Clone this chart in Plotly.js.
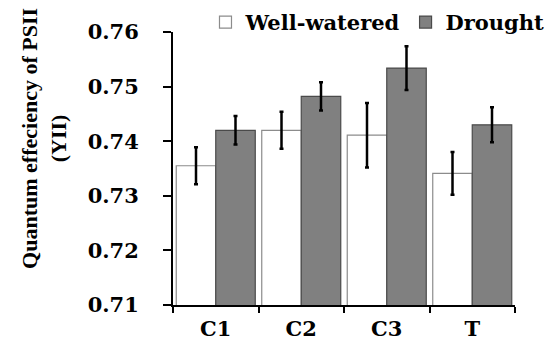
<!DOCTYPE html>
<html>
<head>
<meta charset="utf-8">
<script src="https://cdn.plot.ly/plotly-3.0.1.min.js"></script>
<style>html,body{margin:0;padding:0;background:#fff;}#chart{width:545px;height:340px;}</style>
</head>
<body>
<div id="chart"></div>
<script>
const categories = ["C1", "C2", "C3", "T"];
const wellWatered = [0.7355, 0.7420, 0.7411, 0.7341];
const wellWateredErr = [0.0034, 0.0034, 0.0059, 0.0039];
const drought = [0.7420, 0.7482, 0.7534, 0.7430];
const droughtErr = [0.0026, 0.0026, 0.0040, 0.0032];
const yTickVals = [0.71, 0.72, 0.73, 0.74, 0.75, 0.76];
const yTickText = ["0.71", "0.72", "0.73", "0.74", "0.75", "0.76"];

const boldSerif = "DejaVu Serif, serif";
const errStyle = {type: "data", visible: true, color: "#000", thickness: 2.5, width: 2};

const traces = [
  {
    type: "bar", name: "Well-watered", x: categories, y: wellWatered,
    error_y: Object.assign({array: wellWateredErr}, errStyle),
    marker: {color: "#ffffff", line: {color: "#8c8c8c", width: 1.2}}
  },
  {
    type: "bar", name: "Drought", x: categories, y: drought,
    error_y: Object.assign({array: droughtErr}, errStyle),
    marker: {color: "#808080", line: {color: "#4a4a4a", width: 1.2}}
  }
];

const layout = {
  width: 545, height: 340,
  margin: {l: 173, r: 30, t: 32, b: 35, pad: 0, autoexpand: false},
  paper_bgcolor: "#fff", plot_bgcolor: "#fff",
  barmode: "group", bargap: 0.076, bargroupgap: 0,
  showlegend: true,
  legend: {
    orientation: "h", x: 0.095, xanchor: "left", y: 1.11, yanchor: "top",
    font: {family: boldSerif, size: 21, color: "#000", weight: "bold"},
    bgcolor: "rgba(0,0,0,0)", itemclick: false
  },
  xaxis: {
    type: "category", showline: true, linecolor: "#000", linewidth: 2,
    ticks: "outside", tickson: "boundaries", ticklen: 6, tickwidth: 2, tickcolor: "#000",
    ticklabelstandoff: 4,
    tickfont: {family: boldSerif, size: 21, color: "#000", weight: "bold"},
    showgrid: false, zeroline: false, fixedrange: true
  },
  yaxis: {
    range: [0.71, 0.76], tickmode: "array", tickvals: yTickVals, ticktext: yTickText,
    showline: true, linecolor: "#000", linewidth: 2,
    ticks: "outside", ticklen: 8, tickwidth: 2, tickcolor: "#000",
    ticklabelstandoff: 20,
    tickfont: {family: boldSerif, size: 21, color: "#000", weight: "bold"},
    showgrid: false, zeroline: false, fixedrange: true
  },
  annotations: [{
    text: "Quantum effeciency of PSII<br>(YII)",
    textangle: -90, xref: "paper", yref: "paper",
    x: -0.376, y: 0.61, xanchor: "center", yanchor: "middle",
    showarrow: false,
    font: {family: "Liberation Serif, Times New Roman, serif", size: 22, color: "#000", weight: "bold"}
  }]
};

Plotly.newPlot("chart", traces, layout, {displayModeBar: false, staticPlot: true});
</script>
</body>
</html>
